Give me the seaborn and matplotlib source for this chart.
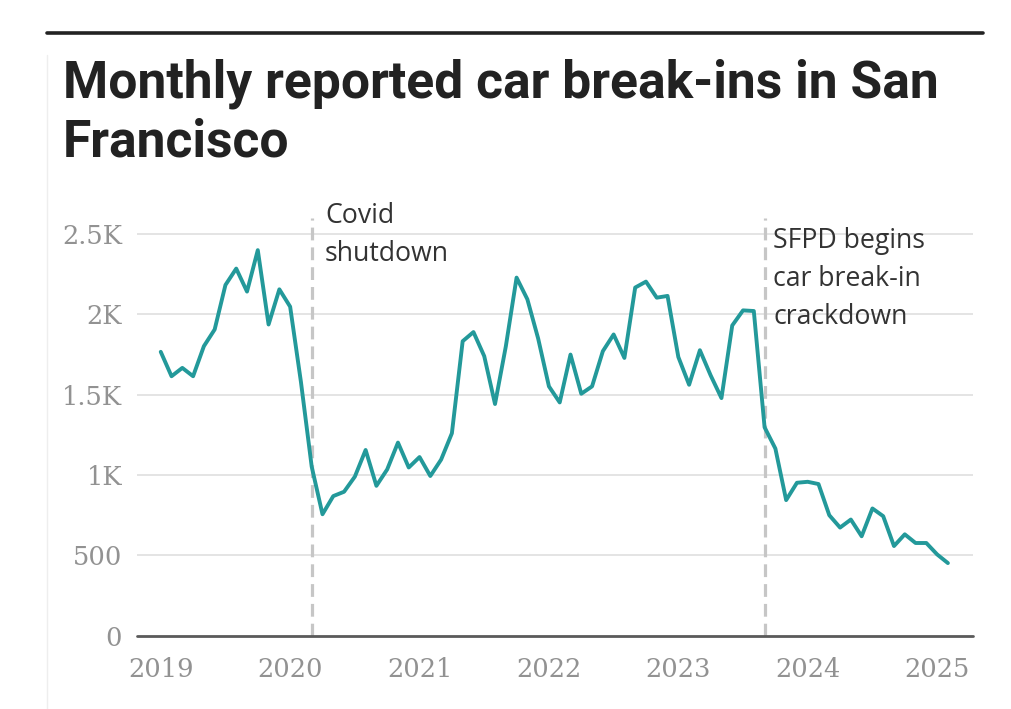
import matplotlib
matplotlib.use("Agg")
import matplotlib.pyplot as plt
import pandas as pd
import seaborn as sns
from matplotlib.lines import Line2D

# ---- data (monthly, Jan 2019 .. Feb 2025) ----
months = list(range(74))
break_ins = [
    1767, 1615, 1667, 1615, 1802, 1906, 2183, 2285, 2142, 2400, 1937, 2156,   # 2019
    2048, 1580, 1052, 756, 869, 896, 990, 1156, 933, 1035, 1202, 1047,        # 2020
    1112, 994, 1096, 1260, 1833, 1890, 1740, 1442, 1800, 2229, 2094, 1850,    # 2021
    1552, 1452, 1750, 1506, 1552, 1771, 1875, 1729, 2167, 2204, 2104, 2115,   # 2022
    1735, 1562, 1777, 1620, 1479, 1931, 2025, 2021, 1297, 1165, 844, 952,     # 2023
    958, 944, 750, 673, 723, 619, 792, 744, 558, 631, 577, 577,               # 2024
    506, 452,                                                                 # 2025
]
year_ticks = [0, 12, 24, 36, 48, 60, 72]
year_labels = ["2019", "2020", "2021", "2022", "2023", "2024", "2025"]
y_ticks = [0, 500, 1000, 1500, 2000, 2500]
y_labels = ["0", "500", "1K", "1.5K", "2K", "2.5K"]
event_months = [14, 56]          # Mar 2020, Sep 2023
event_labels = [["Covid", "shutdown"], ["SFPD begins", "car break-in", "crackdown"]]
title_lines = ["Monthly reported car break-ins in San", "Francisco"]

# ---- style ----
sns.set_theme(style="white")
plt.rcParams["font.family"] = ["Roboto", "DejaVu Sans"]

W, H = 1011, 709
fig = plt.figure(figsize=(W / 100, H / 100), dpi=100)
fig.patch.set_facecolor("white")

ax_left, ax_right, ax_top, ax_bot = 136.7, 972.7, 218.0, 635.7
ax = fig.add_axes([ax_left / W, 1 - ax_bot / H, (ax_right - ax_left) / W, (ax_bot - ax_top) / H])

df = pd.DataFrame({"month": months, "count": break_ins})

# gridlines
for v in y_ticks[1:]:
    ax.axhline(v, color="#e2e2e2", lw=1.3, zorder=0)

# event dashed lines
for m in event_months:
    ax.axvline(m, color="#c6c6c6", lw=2.3, dashes=(4, 2.2), zorder=1)

sns.lineplot(data=df, x="month", y="count", ax=ax, color="#23999a", lw=2.8, zorder=3)

ax.axhline(0, color="#5a5a5a", lw=2.0, zorder=4, clip_on=False)

ax.set_xlim(-2.23, 75.3)
ax.set_ylim(0, 2600)
ax.set_xticks(year_ticks)
ax.set_xticklabels(year_labels)
ax.set_yticks(y_ticks)
ax.set_yticklabels(y_labels)
ax.set_xlabel("")
ax.set_ylabel("")
for s in ax.spines.values():
    s.set_visible(False)
ax.tick_params(axis="both", length=0, labelsize=18.5)
ax.tick_params(axis="x", pad=15)
ax.tick_params(axis="y", pad=10.5)
for lab in ax.get_xticklabels() + ax.get_yticklabels():
    lab.set_fontfamily("DejaVu Serif")
    lab.set_color("#929292")
ax.grid(False)

# annotations
px_per_month = (ax_right - ax_left) / (75.3 + 2.23)
def m_of_px(x):
    return -2.23 + (x - ax_left) / px_per_month
def v_of_px(y):
    return (ax_bot - y) / (ax_bot - ax_top) * 2600

ann_x = [325.0, 773.3]
ann_y0 = [223.0, 248.3]
line_gap = 37.8
ann_texts = []
for xs, y0, lines in zip(ann_x, ann_y0, event_labels):
    for i, t in enumerate(lines):
        ann_texts.append(ax.text(m_of_px(xs), v_of_px(y0 + i * line_gap), t, fontsize=17,
                                 color="#333333", ha="left", va="baseline", clip_on=False,
                                 family=["Open Sans", "DejaVu Sans"]))

# title
t1 = fig.text(62.7 / W, 1 - 97.3 / H, title_lines[0], fontsize=34, fontweight="bold",
              color="#222222", ha="left", va="baseline", family=["Roboto", "DejaVu Sans"])
t2 = fig.text(62.7 / W, 1 - 156.7 / H, title_lines[1], fontsize=34, fontweight="bold",
              color="#222222", ha="left", va="baseline", family=["Roboto", "DejaVu Sans"])
fig.canvas.draw()
r = fig.canvas.get_renderer()
w = t1.get_window_extent(r).width
fs = 34 * 877.0 / w
t1.set_fontsize(fs)
t2.set_fontsize(fs)
# fit annotation size on "SFPD begins" (about 152 px wide)
w_ann = ann_texts[2].get_window_extent(r).width
fs_ann = 17 * 152.0 / w_ann
for t in ann_texts:
    t.set_fontsize(fs_ann)

# top rule and faint left border
fig.add_artist(Line2D([47 / W, 983 / W], [1 - 33.3 / H] * 2, color="#222222", lw=2.6))
fig.add_artist(Line2D([47 / W, 47 / W], [0, 1 - 55 / H], color="#eeeeee", lw=1.0))

fig.savefig("out.png", dpi=100, facecolor="white")
